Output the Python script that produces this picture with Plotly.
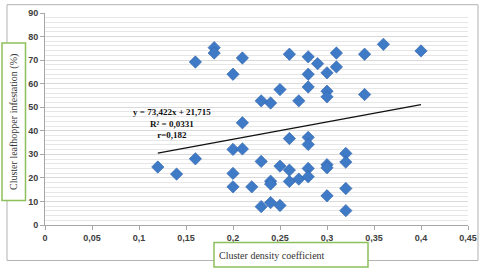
import plotly.graph_objects as go

# Data
density = [0.12, 0.14, 0.16, 0.16, 0.18, 0.18, 0.20, 0.20, 0.20, 0.20,
           0.21, 0.21, 0.21, 0.22, 0.23, 0.23, 0.23, 0.24, 0.24, 0.24, 0.24,
           0.25, 0.25, 0.25, 0.26, 0.26, 0.26, 0.26, 0.27, 0.27,
           0.28, 0.28, 0.28, 0.28, 0.28, 0.28, 0.28, 0.29,
           0.30, 0.30, 0.30, 0.30, 0.30, 0.30, 0.31, 0.31,
           0.32, 0.32, 0.32, 0.32, 0.34, 0.34, 0.36, 0.40]
infestation = [24.6, 21.6, 28.1, 69.2, 75.3, 73.0, 64.0, 32.1, 21.9, 16.2,
               70.9, 43.4, 32.3, 16.2, 52.7, 27.0, 7.8, 51.8, 18.6, 17.4, 9.5,
               57.5, 25.0, 8.3, 72.5, 36.7, 23.3, 18.5, 52.7, 19.5,
               71.4, 64.0, 58.6, 37.2, 34.2, 24.0, 20.5, 68.5,
               64.6, 56.8, 54.4, 25.6, 24.3, 12.4, 73.0, 67.1,
               30.4, 26.7, 15.5, 6.1, 72.5, 55.4, 76.7, 73.9]

slope = 73.422
intercept = 21.715
trend_x = [0.12, 0.40]
trend_y = [slope * v + intercept for v in trend_x]

x_ticks = [0, 0.05, 0.1, 0.15, 0.2, 0.25, 0.3, 0.35, 0.4, 0.45]
y_ticks = [0, 10, 20, 30, 40, 50, 60, 70, 80, 90]

eq_lines = ["y = 73,422x + 21,715", "R² = 0,0331", "r=0,182"]

fig = go.Figure()
fig.add_trace(go.Scatter(
    x=density, y=infestation, mode="markers",
    marker=dict(symbol="diamond", size=9.5, color="#3f7ac6",
                line=dict(color="#2f62a8", width=0.6)),
    showlegend=False, hoverinfo="skip"))
fig.add_trace(go.Scatter(
    x=trend_x, y=trend_y, mode="lines",
    line=dict(color="#111111", width=1.4),
    showlegend=False, hoverinfo="skip"))

L, R, T, B = 45, 12, 13, 44
W, H = 480, 269
pw, ph = W - L - R, H - T - B

def px(x):
    return (x - L) / pw

def py(y):
    return (H - B - y) / ph

tick_font = dict(family="Liberation Sans", size=9, color="#404040", weight="bold")

fig.update_layout(
    width=W, height=H,
    margin=dict(l=L, r=R, t=T, b=B),
    paper_bgcolor="white", plot_bgcolor="white",
    separators=", ",
    xaxis=dict(range=[0, 0.45], tickvals=x_ticks, automargin=False,
               showgrid=False, zeroline=False,
               showline=True, linecolor="#a6a6a6", linewidth=1,
               ticks="outside", ticklen=4, tickcolor="#a6a6a6",
               tickfont=tick_font),
    yaxis=dict(range=[0, 90], tickvals=y_ticks, automargin=False, showgrid=True,
               gridcolor="#d9d9d9", gridwidth=1, zeroline=False,
               showline=True, linecolor="#a6a6a6", linewidth=1,
               ticks="outside", ticklen=4, tickcolor="#a6a6a6",
               minor=dict(dtick=2, showgrid=True, gridcolor="#e6e6e6", gridwidth=1),
               tickfont=tick_font),
    font=dict(family="Liberation Serif"),
)

shapes = []
# outer chart border
shapes.append(dict(type="rect", xref="paper", yref="paper",
                   x0=px(7), x1=px(478), y0=py(260.5), y1=py(4.7),
                   line=dict(color="#b3b3b3", width=1), fillcolor="rgba(0,0,0,0)", layer="below"))
# y title box
shapes.append(dict(type="rect", xref="paper", yref="paper",
                   x0=px(2), x1=px(25.5), y0=py(200.5), y1=py(43),
                   line=dict(color="#8cc05a", width=1.5), fillcolor="white", layer="above"))
# x title box
shapes.append(dict(type="rect", xref="paper", yref="paper",
                   x0=px(214), x1=px(368), y0=py(267), y1=py(242.5),
                   line=dict(color="#8cc05a", width=1.5), fillcolor="white", layer="above"))
fig.update_layout(shapes=shapes)

annotations = [
    dict(text="Cluster leafhopper infestation (%)", xref="paper", yref="paper",
         x=px(14), y=py(122), xanchor="center", yanchor="middle",
         textangle=-90, showarrow=False,
         font=dict(family="Liberation Serif", size=10, color="#333333")),
    dict(text="Cluster density coefficient", xref="paper", yref="paper",
         x=px(217), y=py(255), xanchor="left", yanchor="middle", showarrow=False,
         font=dict(family="Liberation Serif", size=10, color="#333333")),
    dict(text="<br>".join(eq_lines), xref="paper", yref="paper",
         x=px(172), y=py(123), xanchor="center", yanchor="middle",
         showarrow=False, align="center",
         font=dict(family="Liberation Serif", size=9, color="#111111", weight="bold")),
]
fig.update_layout(annotations=annotations)

fig.write_html("out.html", config={"displayModeBar": False},
               post_script="document.body.style.margin='0';document.body.style.padding='0';")
